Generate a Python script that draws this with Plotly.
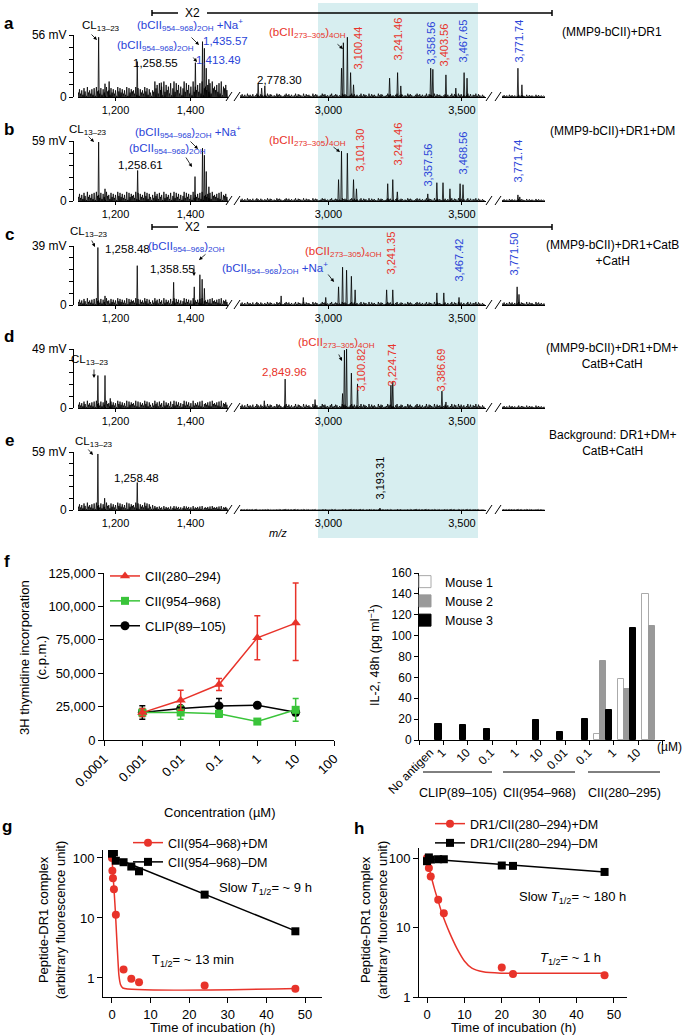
import plotly.graph_objects as go

W, H = 685, 1036
BLUE = "#2a44d8"
RED = "#e8332a"
GREEN = "#3ac43a"
FONT = "Liberation Sans, Arial, sans-serif"


def px(x):
    return x / W


def py(y):
    return 1 - y / H


def xname(i):
    return "xaxis" if i == 1 else "xaxis%d" % i


def yname(i):
    return "yaxis" if i == 1 else "yaxis%d" % i


def xref(i):
    return "x" if i == 1 else "x%d" % i


def yref(i):
    return "y" if i == 1 else "y%d" % i


# ---------------- a-e: mass spectra ----------------
spec_letters = ["a", "b", "c", "d", "e"]
spec_full_mv = [56, 59, 39, 49, 59]
spec_conditions = ["(MMP9-bCII)+DR1", "(MMP9-bCII)+DR1+DM",
                   "(MMP9-bCII)+DR1+CatB<br>+CatH", "(MMP9-bCII)+DR1+DM+<br>CatB+CatH",
                   "Background: DR1+DM+<br>CatB+CatH"]
seg_ranges = [[1100, 1500], [2669, 3590], [3711, 3873]]
seg_tickvals = [[1200, 1400], [3000, 3500], []]
seg_ticktext = [["1,200", "1,400"], ["3,000", "3,500"], []]
ytick_frac = [0, 0.2, 0.4, 0.6, 0.8, 1.0]

# main peaks (m/z, mV)
peaks_a = [(1155, 54), (1172, 12), (1183, 14), (1258, 32), (1322, 13), (1413, 31), (1432, 50),
           (1437, 44), (1442, 26), (1449, 16), (2737, 12), (2750, 8), (2762, 10), (3049, 26),
           (3056, 49), (3071, 54), (3083, 22), (3094, 11), (3229, 17), (3259, 22), (3271, 10),
           (3383, 26), (3391, 25), (3440, 20), (3477, 8), (3508, 22), (3519, 17), (3771, 26), (3786, 11)]
peaks_b = [(1155, 58), (1172, 12), (1259, 30), (1412, 24), (1432, 52), (1437, 45), (1442, 29),
           (1449, 14), (3038, 21), (3049, 49), (3071, 47), (3094, 21), (3105, 12), (3222, 17),
           (3241, 21), (3258, 9), (3372, 7), (3406, 18), (3429, 18), (3455, 12), (3493, 17),
           (3504, 16), (3771, 6), (3778, 4)]
peaks_c = [(1153, 38), (1172, 6), (1258, 26), (1355, 15), (1410, 12), (1425, 20), (1431, 17),
           (1437, 11), (2823, 6), (2906, 5), (2990, 5), (3038, 12), (3053, 25), (3068, 23),
           (3086, 19), (3100, 10), (3218, 10), (3241, 10), (3406, 8), (3432, 8), (3489, 5),
           (3768, 12), (3775, 7)]
peaks_d = [(1153, 27), (1172, 27), (1186, 8), (2760, 6), (2838, 24), (2950, 7), (3053, 12),
           (3060, 48), (3068, 49), (3086, 29), (3109, 20), (3234, 19), (3241, 22), (3425, 14), (3440, 5)]
peaks_e = [(1153, 57), (1171, 12), (1258, 28), (3193, 2)]
spec_peaks = [peaks_a, peaks_b, peaks_c, peaks_d, peaks_e]

# baseline noise, read as 0-9 levels along each segment
noise_seg1 = ("4736285194637281956382741956284736195847362918475639281746395827416395728461"
              "9374628159384726159384726193647382915647382956473829165748392657483")
noise_seg2 = ("3524163425136425314263541326453124635241362543162534216354123645231462354132"
              "6453124635241362543162534216354123645231462354132645312463524136254316253421"
              "3524136254163524136251436253142")
noise_seg3 = "35241635241362543162534216352413"
noise_digits = [noise_seg1, noise_seg2, noise_seg3]
noise_start = [1101, 2672, 3714]
noise_step = [3, 5, 5]
# max noise in mV: seg1 below 1300, seg1 above 1300, seg2, seg3
noise_mv = [[9, 14, 4.5, 3], [9, 9, 4, 3], [4.5, 4.5, 3, 3], [6, 6, 5, 3], [7.5, 4, 1, 1]]

# layout in pixels
spec_zero = [97, 201, 305, 408, 510]
spec_top = [35, 141, 246, 349, 452]
seg_px = [(78, 228), (240, 486), (502, 545)]
spike_hw = [1.5, 2.5, 2.5]

# peak annotations (text, x, y, colour)
spec_texts = [
    [("CL<sub>13–23</sub>", 101, 26, "black"), ("1,258.55", 155, 63, "black"),
     ("(bCII<sub>954–968</sub>)<sub>2OH</sub> +Na<sup>+</sup>", 190, 25, BLUE), ("1,435.57", 226, 41, BLUE),
     ("(bCII<sub>954–968</sub>)<sub>2OH</sub>", 155, 46, BLUE), ("1,413.49", 218, 60, BLUE),
     ("2,778.30", 279, 80, "black"), ("(bCII<sub>273–305</sub>)<sub>4OH</sub>", 307, 33, RED)],
    [("CL<sub>13–23</sub>", 88, 130, "black"), ("1,258.61", 140, 165, "black"),
     ("(bCII<sub>954–968</sub>)<sub>2OH</sub> +Na<sup>+</sup>", 188, 132, BLUE),
     ("(bCII<sub>954–968</sub>)<sub>2OH</sub>", 167, 149, BLUE),
     ("(bCII<sub>273–305</sub>)<sub>4OH</sub>", 307, 141, RED)],
    [("CL<sub>13–23</sub>", 89, 232, "black"), ("1,258.48", 128, 249, "black"),
     ("(bCII<sub>954–968</sub>)<sub>2OH</sub>", 186, 247, BLUE), ("1,358.55", 172, 269, "black"),
     ("(bCII<sub>954–968</sub>)<sub>2OH</sub> +Na<sup>+</sup>", 275, 268, BLUE),
     ("(bCII<sub>273–305</sub>)<sub>4OH</sub>", 343, 252, RED)],
    [("CL<sub>13–23</sub>", 90, 360, "black"), ("2,849.96", 284, 372, RED),
     ("(bCII<sub>273–305</sub>)<sub>4OH</sub>", 336, 343, RED)],
    [("CL<sub>13–23</sub>", 94, 442, "black"), ("1,258.48", 136, 478, "black")],
]
spec_arrows = [
    [(90, 33, 97, 40), (190, 36, 199, 45), (192, 56, 197, 62), (336, 43, 343, 49)],
    [(87, 135, 94, 142), (189, 140, 198, 149), (185, 156, 192, 167), (332, 146, 340, 152)],
    [(91, 239, 95, 247), (194, 264, 194, 276), (207, 253, 199, 260), (327, 273, 334, 282)],
    [(94, 368, 94, 378), (338, 353, 342, 361)],
    [(87, 448, 93, 455)],
]
# vertical m/z labels (text, x, bottom y, colour)
spec_vlabels = [
    [("3,100.44", 358, 72, RED), ("3,241.46", 397, 63, RED), ("3,358.56", 430, 67, BLUE),
     ("3,403.56", 443, 69, RED), ("3,467.65", 462, 65, BLUE), ("3,771.74", 518, 65, BLUE)],
    [("3,101.30", 359, 174, RED), ("3,241.46", 397, 168, RED), ("3,357.56", 427, 189, BLUE),
     ("3,468.56", 462, 177, BLUE), ("3,771.74", 517, 185, BLUE)],
    [("3,241.35", 390, 277, RED), ("3,467.42", 458, 284, BLUE), ("3,771.50", 513, 278, BLUE)],
    [("3,100.82", 360, 394, RED), ("3,224.74", 392, 388, RED), ("3,386.69", 440, 394, RED)],
    [("3,193.31", 379, 501, "black")],
]
spec_cond_y = [32, 131, 253, 356, 443]
x2_bar_y = [13, 227]

# ---------------- f: proliferation ----------------
conc_um = [0.001, 0.01, 0.1, 1, 10]
cii280_cpm = [20500, 29700, 41500, 76500, 87500]
cii280_err_hi = [3000, 7500, 4500, 16500, 30000]
cii280_err_lo = [3000, 7500, 4500, 16500, 28000]
cii954_cpm = [20500, 20600, 19600, 13800, 22600]
cii954_err = [3000, 5000, 2500, 1500, 8500]
clip_cpm = [20600, 23500, 25500, 26000, 20800]
clip_err = [5000, 1500, 5500, 0, 2500]
conc_ticks = [0.0001, 0.001, 0.01, 0.1, 1, 10, 100]
conc_ticktext = ["0.0001", "0.001", "0.01", "0.1", "1", "10", "100"]

# ---------------- f: IL-2 ----------------
il2_slot = [0, 1, 2, 3, 4, 5, 6, 7, 8, 9]
mouse1_il2 = [None, None, None, None, None, None, None, 6, 58, 140]
mouse2_il2 = [None, None, None, None, None, None, None, 76, 49, 109]
mouse3_il2 = [15, 14, 11, None, 19, 8, 20, 29, 107, None]
il2_ticklabels = ["No antigen", "1", "10", "0.1", "1", "10", "0.01", "0.1", "1", "10"]
il2_groups = ["CLIP(89–105)", "CII(954–968)", "CII(280–295)"]

# ---------------- g, h: dissociation ----------------
g_plus_t = [0, 0.1, 0.25, 0.5, 1, 3, 5, 7, 24, 47.5]
g_plus_y = [100, 61, 46, 30, 11.3, 1.38, 0.97, 0.85, 0.75, 0.66]
g_plus_fit_t = [0, 0.3, 0.6, 0.9, 1.2, 1.5, 1.8, 2.2, 2.8, 48]
g_plus_fit_y = [100, 50, 25, 12, 5, 2.2, 1.1, 0.78, 0.68, 0.67]
g_minus_t = [0, 0.5, 1, 3, 5, 7, 24, 47.5]
g_minus_y = [118, 124, 90, 85, 72, 60, 24.5, 6]
g_minus_fit_t = [0, 47.5]
g_minus_fit_y = [105, 6.1]

h_plus_t = [0, 0.25, 0.5, 1, 3, 4.5, 20, 23, 47.5]
h_plus_y = [100, 90, 72, 54, 25, 16, 2.65, 2.15, 2.05]
h_plus_fit_t = [0, 1, 2, 3, 4, 5, 6, 8, 10, 12, 15, 20, 30, 48]
h_plus_fit_y = [100, 58, 36, 24, 16, 11.5, 8.5, 5, 3.3, 2.6, 2.3, 2.2, 2.2, 2.2]
h_minus_t = [0, 0.5, 1, 3, 4.5, 20, 23, 47.5]
h_minus_y = [90, 102, 95, 96, 96, 78, 77, 63]
h_minus_fit_t = [0, 47.5]
h_minus_fit_y = [97, 63]


def spikes(peaks, hw):
    xs, ys = [], []
    for mz, h in sorted(peaks):
        xs += [mz - hw, mz, mz + hw]
        ys += [0, h, 0]
    return xs, ys


fig = go.Figure()
layout = {}
annotations = []
shapes = []


def text(t, x, y, size=11, color="black", **kw):
    kw.setdefault("xanchor", "center")
    kw.setdefault("yanchor", "middle")
    annotations.append(dict(text=t, x=px(x), y=py(y), xref="paper", yref="paper", showarrow=False,
                            font=dict(size=size, color=color, family=FONT), **kw))


def arrow(x0, y0, x1, y1, color="black"):
    annotations.append(dict(text="", x=px(x1), y=py(y1), xref="paper", yref="paper",
                            ax=x0 - x1, ay=y0 - y1, axref="pixel", ayref="pixel", showarrow=True,
                            arrowhead=2, arrowsize=0.9, arrowwidth=0.8, arrowcolor=color))


def pline(x0, y0, x1, y1, width=1, color="black"):
    shapes.append(dict(type="line", xref="paper", yref="paper", x0=px(x0), y0=py(y0), x1=px(x1), y1=py(y1),
                       line=dict(color=color, width=width)))


axis_common = dict(showgrid=False, zeroline=False, showline=True, linecolor="black", linewidth=1,
                   ticks="outside", tickcolor="black", ticklen=4, automargin=False,
                   tickfont=dict(size=11, family=FONT, color="black"))

# shaded m/z window
shapes.append(dict(type="rect", xref="paper", yref="paper", x0=px(318), x1=px(478), y0=py(538), y1=py(3),
                   fillcolor="#d7eef0", line=dict(width=0), layer="below"))

for p in range(5):
    yid = p + 1
    top_mv = spec_full_mv[p]
    zero, top = spec_zero[p], spec_top[p]
    for s in range(3):
        xid = p * 3 + s + 1
        lo, hi = seg_ranges[s]
        pk = [(m, h) for m, h in spec_peaks[p] if lo <= m <= hi]
        for i, d in enumerate(noise_digits[s]):
            m = noise_start[s] + i * noise_step[s]
            if m > hi - 2:
                break
            if s == 0:
                amp = noise_mv[p][0] if m < 1300 else noise_mv[p][1]
            else:
                amp = noise_mv[p][s + 1]
            pk.append((m, int(d) / 9 * amp))
        xs, ys = spikes(pk, spike_hw[s])
        fig.add_trace(go.Scatter(x=xs, y=ys, xaxis=xref(xid), yaxis=yref(yid), mode="lines",
                                 line=dict(color="black", width=0.8), showlegend=False, hoverinfo="skip"))
        layout[xname(xid)] = dict(axis_common, domain=[px(seg_px[s][0]), px(seg_px[s][1])], range=[lo, hi],
                                  anchor=yref(yid), tickvals=seg_tickvals[s], ticktext=seg_ticktext[s],
                                  ticklen=3)
    layout[yname(yid)] = dict(axis_common, domain=[py(zero), py(top)], range=[0, top_mv],
                              anchor="free", position=px(73),
                              tickvals=[f * top_mv for f in ytick_frac],
                              ticktext=["0", "", "", "", "", "%d mV" % top_mv],
                              tickfont=dict(size=12, family=FONT, color="black"))
    text("<b>%s</b>" % spec_letters[p], 9, top - 12, size=17)
    text(spec_conditions[p], 612, spec_cond_y[p], size=12)
    for t, x, y, c in spec_texts[p]:
        text(t, x, y, size=11.5, color=c)
    for a in spec_arrows[p]:
        arrow(*a)
    for t, x, y, c in spec_vlabels[p]:
        text(t, x, y, size=11, color=c, textangle=-90, yanchor="bottom")
    # axis breaks
    for bx in [229, 237, 489, 498]:
        pline(bx - 3, zero + 4, bx + 3, zero - 5, width=1)

for by in x2_bar_y:
    pline(152, by, 178, by, width=1.5)
    pline(207, by, 552, by, width=1.5)
    pline(152, by - 3, 152, by + 3, width=1.5)
    pline(552, by - 3, 552, by + 3, width=1.5)
    text("X2", 192, by, size=12)
text("<i>m/z</i>", 278, 533, size=11)

# ---------------- f left ----------------
fax = dict(axis_common, tickfont=dict(size=13, family=FONT, color="black"), ticklen=5)
fig.add_trace(go.Scatter(x=conc_um, y=clip_cpm, xaxis="x16", yaxis="y6", mode="lines+markers",
                         name="CLIP(89–105)", legendrank=3, legendgroup="clip",
                         line=dict(color="black", width=1.5), marker=dict(symbol="circle", size=9, color="black"),
                         error_y=dict(type="data", array=clip_err, color="black", thickness=1.5, width=3)))
fig.add_trace(go.Scatter(x=conc_um, y=cii954_cpm, xaxis="x16", yaxis="y6", mode="lines+markers",
                         name="CII(954–968)", legendrank=2, legendgroup="c954",
                         line=dict(color=GREEN, width=1.5), marker=dict(symbol="square", size=8, color=GREEN),
                         error_y=dict(type="data", array=cii954_err, color=GREEN, thickness=1.5, width=3)))
fig.add_trace(go.Scatter(x=conc_um, y=cii280_cpm, xaxis="x16", yaxis="y6", mode="lines+markers",
                         name="CII(280–294)", legendrank=1, legendgroup="c280",
                         line=dict(color=RED, width=1.5), marker=dict(symbol="triangle-up", size=9, color=RED),
                         error_y=dict(type="data", array=cii280_err_hi, arrayminus=cii280_err_lo,
                                      color=RED, thickness=1.5, width=3)))
layout["xaxis16"] = dict(fax, type="log", domain=[px(104), px(334)], range=[-4, 2], anchor="y6",
                         tickvals=conc_ticks, ticktext=conc_ticktext, tickangle=-45)
layout["yaxis6"] = dict(fax, domain=[py(740), py(573)], range=[0, 125000], anchor="x16",
                        tickvals=[0, 25000, 50000, 75000, 100000, 125000], tickformat=",")
text("<b>f</b>", 7, 561, size=17)
text("3H thymidine incorporation<br>(c.p.m.)", 33, 658, size=13, textangle=-90)
text("Concentration (µM)", 220, 812, size=13)

# ---------------- f right ----------------
bar_w = 0.25
for name, vals, off, fill, edge in [("Mouse 1", mouse1_il2, 0.30, "white", "#aaaaaa"),
                                    ("Mouse 2", mouse2_il2, 0.55, "#999999", "#999999"),
                                    ("Mouse 3", mouse3_il2, 0.80, "black", "black")]:
    fig.add_trace(go.Bar(x=[i + off for i in il2_slot], y=vals, width=bar_w, name=name,
                         xaxis="x17", yaxis="y7", legend="legend2",
                         marker=dict(color=fill, line=dict(color=edge, width=1))))
layout["xaxis17"] = dict(axis_common, domain=[px(419), px(665)], range=[0, 10.1], anchor="y7",
                         tickvals=[0.45, 0.95, 1.95, 2.95, 3.95, 4.95, 5.95, 6.95, 7.95, 8.95],
                         ticktext=il2_ticklabels, ticklen=0, tickangle=-45,
                         tickfont=dict(size=12, family=FONT, color="black"),
                         minor=dict(ticks="outside", ticklen=4, tickcolor="black", tick0=0, dtick=1))
layout["yaxis7"] = dict(axis_common, domain=[py(740), py(573)], range=[0, 160], anchor="x17",
                        dtick=20, tickfont=dict(size=12, family=FONT, color="black"))
text("IL-2, 48h (pg ml<sup>−1</sup>)", 374, 655, size=12.5, textangle=-90)
text("(µM)", 684, 747, size=12, xanchor="right")
for g, (x0, x1) in zip(il2_groups, [(423, 492), (503, 575), (588, 660)]):
    pline(x0, 772, x1, 772, width=1)
    text(g, (x0 + x1) / 2, 793, size=12.5)

# ---------------- g ----------------
gax = dict(axis_common, tickfont=dict(size=13, family=FONT, color="black"), ticklen=5)
fig.add_trace(go.Scatter(x=g_plus_fit_t, y=g_plus_fit_y, xaxis="x18", yaxis="y8", mode="lines",
                         line=dict(color=RED, width=1.5, shape="spline", smoothing=0.6), showlegend=False))
fig.add_trace(go.Scatter(x=g_minus_fit_t, y=g_minus_fit_y, xaxis="x18", yaxis="y8", mode="lines",
                         line=dict(color="black", width=1.5), showlegend=False))
fig.add_trace(go.Scatter(x=g_plus_t, y=g_plus_y, xaxis="x18", yaxis="y8", mode="markers",
                         marker=dict(symbol="circle", size=8, color=RED), showlegend=False))
fig.add_trace(go.Scatter(x=g_minus_t, y=g_minus_y, xaxis="x18", yaxis="y8", mode="markers",
                         marker=dict(symbol="square", size=8, color="black"), showlegend=False))
fig.add_trace(go.Scatter(x=[None], y=[None], xaxis="x18", yaxis="y8", mode="lines+markers", name="CII(954–968)+DM",
                         legend="legend3", line=dict(color=RED, width=1.5), marker=dict(size=8, color=RED)))
fig.add_trace(go.Scatter(x=[None], y=[None], xaxis="x18", yaxis="y8", mode="lines+markers", name="CII(954–968)–DM",
                         legend="legend3", line=dict(color="black", width=1.5),
                         marker=dict(symbol="square", size=8, color="black")))
layout["xaxis18"] = dict(gax, domain=[px(103), px(322)], range=[-2.33, 54.4], anchor="y8", dtick=10, tick0=0)
layout["yaxis8"] = dict(gax, type="log", domain=[py(997), py(850)], range=[-0.317, 2.133], anchor="x18",
                        tickvals=[1, 10, 100], ticktext=["1", "10", "100"])
text("<b>g</b>", 7, 826, size=17)
text("Peptide-DR1 complex<br>(arbitrary fluorescence unit)", 52, 920, size=13, textangle=-90)
text("Time of incubation (h)", 212, 1027, size=13)
text("Slow <i>T</i><sub>1/2</sub>= ~ 9 h", 265, 888, size=13)
text("T<sub>1/2</sub>= ~ 13 min", 193, 960, size=13)

# ---------------- h ----------------
fig.add_trace(go.Scatter(x=h_plus_fit_t, y=h_plus_fit_y, xaxis="x19", yaxis="y9", mode="lines",
                         line=dict(color=RED, width=1.5, shape="spline", smoothing=0.8), showlegend=False))
fig.add_trace(go.Scatter(x=h_minus_fit_t, y=h_minus_fit_y, xaxis="x19", yaxis="y9", mode="lines",
                         line=dict(color="black", width=1.5), showlegend=False))
fig.add_trace(go.Scatter(x=h_plus_t, y=h_plus_y, xaxis="x19", yaxis="y9", mode="markers",
                         marker=dict(symbol="circle", size=8, color=RED), showlegend=False))
fig.add_trace(go.Scatter(x=h_minus_t, y=h_minus_y, xaxis="x19", yaxis="y9", mode="markers",
                         marker=dict(symbol="square", size=8, color="black"), showlegend=False))
fig.add_trace(go.Scatter(x=[None], y=[None], xaxis="x19", yaxis="y9", mode="lines+markers",
                         name="DR1/CII(280–294)+DM", legend="legend4",
                         line=dict(color=RED, width=1.5), marker=dict(size=8, color=RED)))
fig.add_trace(go.Scatter(x=[None], y=[None], xaxis="x19", yaxis="y9", mode="lines+markers",
                         name="DR1/CII(280–294)–DM", legend="legend4",
                         line=dict(color="black", width=1.5), marker=dict(symbol="square", size=8, color="black")))
layout["xaxis19"] = dict(gax, domain=[px(419), px(627)], range=[-2.14, 53.5], anchor="y9", dtick=10, tick0=0)
layout["yaxis9"] = dict(gax, type="log", domain=[py(997), py(848)], range=[0, 2.144], anchor="x19",
                        tickvals=[1, 10, 100], ticktext=["1", "10", "100"])
text("<b>h</b>", 359, 828, size=17)
text("Peptide-DR1 complex<br>(arbitrary fluorescence unit)", 374, 920, size=13, textangle=-90)
text("Time of incubation (h)", 513, 1027, size=13)
text("Slow <i>T</i><sub>1/2</sub>= ~ 180 h", 572, 897, size=13)
text("<i>T</i><sub>1/2</sub>= ~ 1 h", 570, 958, size=13)

legend_common = dict(bgcolor="rgba(0,0,0,0)", font=dict(size=13, family=FONT, color="black"),
                     xanchor="left", yanchor="top", itemwidth=30, tracegroupgap=0)
fig.update_layout(
    template="none",
    width=W, height=H, margin=dict(l=0, r=0, t=0, b=0, autoexpand=False),
    paper_bgcolor="white", plot_bgcolor="rgba(0,0,0,0)",
    font=dict(family=FONT, color="black"),
    showlegend=True,
    legend=dict(legend_common, x=px(105), y=py(561), tracegroupgap=5),
    legend2=dict(legend_common, x=px(405), y=py(567), font=dict(size=12.5, family=FONT, color="black")),
    legend3=dict(legend_common, x=px(128), y=py(828), font=dict(size=12.5, family=FONT, color="black")),
    legend4=dict(legend_common, x=px(430), y=py(809), font=dict(size=12.5, family=FONT, color="black")),
    annotations=annotations, shapes=shapes, bargap=0, barmode="overlay",
    **layout,
)
fig.write_html("out.html", config={"displayModeBar": False},
               post_script="document.body.style.margin='0px';")
